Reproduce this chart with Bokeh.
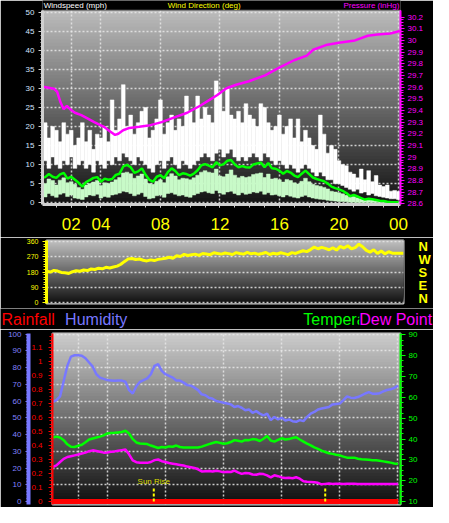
from bokeh.plotting import figure
from bokeh.models import Range1d, LinearAxis, FixedTicker, BoxAnnotation, Label
from bokeh.layouts import column
from bokeh.embed import file_html
from bokeh.resources import INLINE

FONT = "Liberation Sans"

# ---------------- data ----------------
hours = [i * 0.25 for i in range(97)]          # sample times (h), quarter-hourly

gust_hi = [20, 21, 17, 20, 19, 16, 21, 18, 19, 15, 17, 21, 16, 19, 14, 18,
           17, 20, 16, 27, 19, 22, 31, 20, 23, 18, 21, 24, 25, 17, 19, 22,
           27, 18, 21, 23, 19, 22, 20, 28, 24, 21, 28, 22, 25, 23, 21, 32,
           29, 24, 30, 23, 22, 24, 21, 26, 23, 22, 20, 26, 25, 21, 19, 20,
           23, 18, 20, 22, 17, 22, 16, 19, 17, 15, 14, 23, 18, 13, 15, 14,
           11, 10, 9.7, 8, 7.5, 6.5, 8.8, 6, 8.4, 5.5, 7.1, 4.6, 4.2, 4.6, 3.0, 3.2,
           2.9]
gust_lo = [10, 11, 9, 12, 10, 9, 11, 10, 12, 9, 10, 11, 9, 10, 8, 11,
           10, 9, 11, 10, 12, 11, 13, 12, 11, 10, 12, 11, 10, 9, 8, 10,
           11, 9, 11, 12, 10, 9, 11, 10, 9, 10, 11, 12, 13, 12, 11, 13,
           14, 12, 13, 14, 12, 11, 12, 11, 12, 13, 12, 11, 13, 12, 11, 10,
           11, 10, 9, 10, 9, 8, 9, 10, 9, 8, 7, 8, 7, 6, 6, 5,
           5, 4.5, 4, 3.5, 3, 3.5, 2.5, 2.8, 2, 2.4, 1.8, 1.6, 1.4, 1.2, 1, 1,
           0.8]
speed_hi = [5.5, 5.0, 6.2, 5.8, 4.6, 5.9, 6.5, 5.2, 5.5, 4.8, 4.0, 3.5, 4.6, 5.0, 5.4, 5.8,
            4.5, 5.2, 5.0, 5.4, 6.0, 6.6, 7.8, 8.0, 7.6, 6.4, 7.0, 7.5, 6.2, 5.0, 4.8, 5.6,
            6.0, 5.2, 6.8, 7.6, 7.0, 6.0, 6.4, 6.3, 6.0, 6.5, 7.2, 8.0, 8.4, 8.0, 7.8, 8.8,
            7.0, 6.8, 7.5, 8.6, 7.2, 6.5, 6.9, 6.6, 6.8, 7.4, 7.6, 7.8, 6.6, 7.5, 6.2, 6.4,
            6.0, 5.4, 6.1, 5.8, 5.2, 4.9, 5.6, 6.4, 5.5, 4.8, 4.5, 4.3, 4.0, 3.6, 3.0, 2.8,
            2.6, 2.3, 1.9, 1.4, 1.6, 1.3, 1.0, 0.8, 0.9, 0.8, 0.6, 0.5, 0.4, 0.3, 0.3, 0.2,
            0.2]
speed_lo = [2.0, 1.5, 2.4, 1.8, 1.4, 2.2, 2.5, 1.6, 2.0, 1.2, 1.0, 0.8, 1.5, 2.0, 1.8, 2.2,
            1.2, 1.6, 1.4, 2.0, 2.2, 2.5, 3.0, 2.8, 2.4, 1.8, 2.2, 2.6, 1.6, 1.0, 1.2, 1.8,
            2.0, 1.4, 2.4, 2.6, 2.2, 1.8, 2.0, 1.6, 1.4, 2.0, 2.4, 2.8, 3.0, 2.6, 2.4, 3.2,
            2.5, 2.2, 2.8, 3.0, 2.4, 2.0, 2.6, 2.2, 2.4, 2.8, 2.6, 3.0, 2.2, 2.6, 2.0, 2.1,
            1.8, 1.5, 2.0, 1.7, 1.4, 1.2, 1.6, 1.9, 1.5, 1.2, 1.0, 0.9, 0.8, 0.6, 0.5, 0.4,
            0.3, 0.3, 0.2, 0.1, 0.1, 0.0, 0.0, 0.0, 0.0, 0.0, 0.0, 0.0, 0.0, 0.0, 0.0, 0.0,
            0.0]
speed_avg = [6.5, 6.7, 7.5, 6.8, 6.5, 7.4, 7.8, 6.3, 6.8, 6.0, 5.2, 4.2, 5.4, 5.9, 6.5, 6.7,
             5.5, 6.3, 6.0, 6.2, 7.3, 7.6, 9.5, 9.9, 9.3, 7.8, 8.2, 9.0, 7.3, 6.0, 5.5, 6.8,
             7.2, 6.4, 8.0, 9.0, 8.3, 7.2, 7.7, 7.5, 7.1, 7.6, 8.5, 9.8, 10.1, 9.7, 9.3, 10.6,
             9.8, 10.1, 11.0, 11.2, 10.0, 9.3, 9.6, 9.3, 9.2, 10.0, 10.3, 10.5, 9.3, 10.4, 9.0, 8.9,
             8.4, 7.6, 8.3, 7.9, 7.1, 6.7, 7.6, 8.4, 7.5, 6.6, 6.2, 5.9, 5.6, 5.0, 4.2, 3.8,
             3.5, 3.1, 2.5, 1.7, 2.0, 1.6, 1.2, 0.8, 1.0, 0.9, 0.7, 0.5, 0.4, 0.2, 0.1, 0.1,
             0.1]

press_t = [0.07, 0.2, 0.85, 1.06, 1.28, 1.5, 1.71, 1.93, 2.25, 2.68, 3.12, 3.55, 4.2, 4.62,
           4.95, 5.17, 5.49, 5.92, 6.57, 7.2, 8.08, 8.94, 9.8, 10.67, 11.3, 11.8, 12.44, 13.09,
           13.95, 15.03, 15.89, 16.98, 17.84, 18.27, 19.13, 20.0, 21.08, 21.94, 22.59, 23.45, 24.1]
press_v = [29.60, 29.60, 29.585, 29.56, 29.47, 29.41, 29.44, 29.41, 29.38, 29.36, 29.33, 29.30,
           29.26, 29.22, 29.19, 29.20, 29.23, 29.25, 29.26, 29.27, 29.30, 29.34, 29.38, 29.44,
           29.49, 29.53, 29.59, 29.62, 29.65, 29.70, 29.76, 29.83, 29.87, 29.92, 29.96, 29.98,
           30.00, 30.04, 30.05, 30.06, 30.08]

direction = [185, 180, 190, 186, 178, 176, 172, 182, 188, 185, 192, 189, 198, 195, 203, 199,
             208, 204, 210, 215, 226, 243, 258, 260, 254, 257, 250, 246, 252, 248, 255, 258,
             262, 268, 262, 276, 272, 285, 278, 282, 286, 279, 290, 287, 283, 294, 290, 286,
             293, 289, 284, 295, 290, 286, 296, 288, 292, 285, 290, 296, 284, 291, 287, 294,
             289, 283, 295, 290, 299, 306, 301, 313, 328, 318, 326, 320, 312, 324, 310, 332,
             322, 336, 318, 325, 345, 330, 308, 298, 312, 290, 305, 288, 300, 292, 292, 292,
             292]

humidity = [58.5, 59.5, 60.5, 62.8, 72.0, 81.0, 86.5, 87.3, 87.3, 87.0, 85.5, 83.0, 80.5, 76.0, 74.0, 73.2,
            72.5, 72.3, 72.1, 72.2, 72.2, 71.5, 66.5, 64.5, 68.8, 71.5, 72.5, 73.5, 76.0, 81.0, 82.0, 78.0,
            76.0, 75.0, 74.0, 72.3, 72.2, 71.0, 69.5, 69.2, 68.0, 66.5, 64.0, 63.5, 62.0, 61.4, 60.0, 59.5,
            59.0, 58.5, 58.0, 56.5, 57.0, 56.0, 54.5, 55.0, 53.0, 54.0, 52.5, 51.5, 52.5, 48.6, 50.5, 49.0,
            50.0, 48.4, 49.0, 48.0, 47.6, 48.6, 48.0, 50.5, 52.5, 53.5, 55.0, 55.5, 56.0, 56.5, 58.0, 58.3,
            58.5, 60.5, 62.8, 62.0, 61.8, 62.4, 63.4, 64.5, 65.3, 64.4, 64.3, 64.7, 65.8, 66.6, 67.0, 67.8,
            69.2]
temperature = [40.5, 40.8, 41.2, 40.8, 39.5, 37.5, 36.3, 36.2, 36.8, 37.3, 38.5, 39.8, 40.3, 40.8, 41.2, 41.8,
               42.7, 42.9, 43.0, 43.2, 43.4, 44.0, 42.7, 40.0, 38.4, 37.9, 37.8, 37.6, 36.9, 36.3, 35.7, 36.2,
               36.0, 36.5, 36.3, 36.9, 36.2, 36.0, 36.0, 36.0, 36.0, 36.0, 36.4, 37.0, 37.6, 38.1, 38.6, 38.2,
               37.8, 38.0, 38.6, 39.5, 39.2, 38.8, 39.6, 39.5, 40.0, 39.8, 39.1, 40.2, 41.5, 39.3, 38.8, 39.6,
               40.4, 39.8, 40.0, 40.5, 40.9, 39.8, 38.8, 37.8, 37.0, 36.0, 35.3, 34.5, 33.8, 33.2, 32.9, 32.5,
               32.2, 31.6, 31.1, 31.1, 31.1, 30.6, 30.3, 30.2, 30.1, 29.9, 29.8, 29.6, 29.3, 29.0, 28.7, 28.3,
               28.0]
dew_point = [26.0, 26.6, 27.4, 29.0, 30.5, 31.4, 31.8, 32.2, 32.6, 33.1, 33.5, 34.2, 34.6, 34.3, 33.9, 33.5,
             33.6, 33.9, 34.1, 34.4, 34.7, 35.0, 32.7, 29.8, 28.9, 28.7, 28.7, 28.6, 29.0, 29.9, 30.2, 29.4,
             29.0, 28.5, 28.2, 27.9, 27.6, 27.3, 26.8, 26.5, 26.1, 25.5, 24.5, 24.6, 24.7, 24.4, 24.8, 24.5,
             24.1, 24.3, 24.2, 24.9, 24.0, 23.3, 23.7, 23.6, 23.0, 22.9, 23.4, 23.2, 22.6, 21.6, 22.6, 22.2,
             21.6, 21.3, 21.4, 21.2, 21.7, 21.0, 19.8, 19.5, 19.4, 19.3, 19.0, 18.3, 18.5, 18.7, 18.5, 18.6,
             18.6, 18.4, 18.6, 18.6, 18.6, 18.5, 18.5, 18.4, 18.5, 18.4, 18.4, 18.5, 18.4, 18.5, 18.4, 18.5,
             18.5]
rainfall = [0.0] * 97

sun_t = [7.2, 19.0]
sun_labels = ["Sun Rise", ""]

x_tick_hours = [2, 4, 8, 12, 16, 20, 24]
x_tick_labels = ["02", "04", "08", "12", "16", "20", "00"]
speed_ticks = [0, 5, 10, 15, 20, 25, 30, 35, 40, 45, 50]
press_ticks = [28.6, 28.7, 28.8, 28.9, 29.0, 29.1, 29.2, 29.3, 29.4, 29.5, 29.6, 29.7, 29.8,
               29.9, 30.0, 30.1, 30.2]
press_tick_labels = ["28.6", "28.7", "28.8", "28.9", "29", "29.1", "29.2", "29.3", "29.4", "29.5",
                     "29.6", "29.7", "29.8", "29.9", "30", "30.1", "30.2"]
dir_ticks = [0, 90, 180, 270, 360]
compass_pos = [4, 3, 2, 1, 0]
compass_labels = ["N", "W", "S", "E", "N"]
hum_ticks = [0, 10, 20, 30, 40, 50, 60, 70, 80, 90, 100]
rain_ticks = [0.0, 0.1, 0.2, 0.3, 0.4, 0.5, 0.6, 0.7, 0.8, 0.9, 1.0, 1.1]
rain_tick_labels = ["0", "0.1", "0.2", "0.3", "0.4", "0.5", "0.6", "0.7", "0.8", "0.9", "1", "1.1"]
temp_ticks = [10, 20, 30, 40, 50, 60, 70, 80, 90]

top_titles = ["Windspeed (mph)", "Wind Direction (deg)", "Pressure (inHg)"]
bottom_titles = ["Rainfall", "Humidity", "Temperature", "Dew Point"]


# ---------------- helpers ----------------
def grey(v):
    v = int(round(v))
    return "#%02x%02x%02x" % (v, v, v)


def add_gradient(p, y0, y1, top, bottom, n=60):
    for i in range(n):
        f = (i + 0.5) / n
        b = y0 + (y1 - y0) * i / n
        p.add_layout(BoxAnnotation(bottom=b, top=y1, fill_color=grey(bottom + (top - bottom) * f),
                                   fill_alpha=1.0, line_color=None, level="image"))


def style_grid(g):
    g.grid_line_color = "#e8e8e8"
    g.grid_line_dash = "2 2"
    g.grid_line_width = 1.5
    g.grid_line_alpha = 0.85


def style_axis(ax, color, line_color, font_size="8px", tick_out=4, minor_out=2, line_width=3,
               standoff=4):
    ax.axis_line_color = line_color
    ax.axis_line_width = line_width
    ax.major_tick_line_color = line_color
    ax.minor_tick_line_color = line_color
    ax.major_tick_out = tick_out
    ax.major_tick_in = 0
    ax.minor_tick_out = minor_out
    ax.minor_tick_in = 0
    ax.major_label_text_color = color
    ax.major_label_text_font = FONT
    ax.major_label_text_font_size = font_size
    ax.major_label_standoff = standoff


common = dict(output_backend="svg", toolbar_location=None, border_fill_color="black",
              background_fill_color="#141414", outline_line_color="#d0d0d0", outline_line_width=2,
              frame_align=False, title=None)
strip = dict(output_backend="svg", toolbar_location=None, border_fill_color="black",
             background_fill_color="black", outline_line_color=None, min_border=0,
             x_axis_location=None, y_axis_location=None, frame_align=False, title=None)

# ---------------- panel 1: wind speed / gust / pressure (frame top strip holds titles) -------
p1 = figure(width=433, height=237, x_range=Range1d(0.07, 24.14), y_range=Range1d(-0.5, 53.13),
            min_border_left=42, min_border_right=33, min_border_top=0, min_border_bottom=33,
            **dict(common, outline_line_color=None))
p1.extra_y_ranges = {"press": Range1d(28.594, 30.342)}
add_gradient(p1, -0.5, 50.5, 188, 18)

xt1 = FixedTicker(ticks=x_tick_hours, minor_ticks=list(range(0, 25)))
ax = p1.xaxis[0]
ax.ticker = xt1
ax.major_label_overrides = dict(zip(x_tick_hours, x_tick_labels))
style_axis(ax, "#ffff00", "#d0d0d0", font_size="17px", tick_out=3, minor_out=3, standoff=10)
ay = p1.yaxis[0]
ay.ticker = FixedTicker(ticks=speed_ticks, minor_ticks=list(range(0, 51)))
ay.bounds = (-0.5, 50.5)
style_axis(ay, "#d4e4ff", "#d0d0d0", tick_out=4, minor_out=2, standoff=4)
pa = LinearAxis(y_range_name="press", bounds=(28.594, 30.256),
                ticker=FixedTicker(ticks=press_ticks, minor_ticks=[28.6 + 0.025 * k for k in range(65)]),
                major_label_overrides=dict(zip(press_ticks, press_tick_labels)))
style_axis(pa, "#ff00ff", "#ff00ff", tick_out=4, minor_out=3, line_width=2, standoff=3)
p1.add_layout(pa, "right")
p1.xgrid.ticker = xt1
p1.xgrid.cross_bounds = (-0.5, 50.5)
p1.ygrid.ticker = FixedTicker(ticks=speed_ticks)
style_grid(p1.xgrid[0])
style_grid(p1.ygrid[0])
# black strip above the data area (title band) and the data-area outline
p1.add_layout(BoxAnnotation(bottom=50.5, top=53.13, fill_color="black", fill_alpha=1.0,
                            line_color=None, level="underlay"))
p1.add_layout(BoxAnnotation(bottom=-0.5, top=50.5, fill_alpha=0.0, line_color="#d0d0d0",
                            line_width=2, level="underlay"))
for txt, x, col in zip(top_titles, [0.15, 8.49, 20.3], ["white", "#ffff00", "#ff00ff"]):
    p1.add_layout(Label(x=x, y=51.8, text=txt, text_color=col, text_font=FONT, text_font_size="8px",
                        text_baseline="middle"))

p1.vbar(x=hours, width=0.25, bottom=gust_lo, top=gust_hi, fill_color="white",
        line_color="white", line_width=0.5)
p1.vbar(x=hours, width=0.25, bottom=speed_lo, top=speed_hi, fill_color="#c8fac8",
        line_color="#c8fac8", line_width=0.5)
p1.line(hours, speed_avg, line_color="#00ff00", line_width=2.5)
p1.line(press_t, press_v, y_range_name="press", line_color="#ff00ff", line_width=2.5)

# ---------------- panel 2: wind direction ----------------
p2 = figure(width=433, height=71, x_range=Range1d(0, 24), y_range=Range1d(-6.2, 366.8),
            x_axis_location=None, min_border_left=46, min_border_right=30, min_border_top=3,
            min_border_bottom=5, **common)
p2.extra_y_ranges = {"compass": Range1d(-0.4, 4.5)}
add_gradient(p2, -6.2, 366.8, 192, 16)
ay2 = p2.yaxis[0]
ay2.ticker = FixedTicker(ticks=dir_ticks, minor_ticks=list(range(0, 361, 15)))
style_axis(ay2, "#ffff00", "#ffff00", font_size="7px", tick_out=4, minor_out=3, standoff=4)
ca = LinearAxis(y_range_name="compass", ticker=FixedTicker(ticks=compass_pos),
                major_label_overrides=dict(zip(compass_pos, compass_labels)))
style_axis(ca, "#ffff00", None, font_size="13px", tick_out=0, minor_out=0, standoff=15)
ca.major_label_text_font_style = "bold"
p2.add_layout(ca, "right")
p2.xgrid.visible = False
p2.ygrid.ticker = FixedTicker(ticks=dir_ticks)
style_grid(p2.ygrid[0])
p2.line(hours, direction, line_color="#ffff00", line_width=3)

# ---------------- title strip above panel 3 ----------------
pt = figure(width=433, height=21, x_range=Range1d(0, 449), y_range=Range1d(339.4, 317.7), **strip)
pt.grid.visible = False
for txt, x, col in zip(bottom_titles, [1, 67, 314, 372], ["#ff0000", "#7878ff", "#00ff00", "#ff00ff"]):
    pt.add_layout(Label(x=x, y=328.8, text=txt, text_color=col, text_font=FONT, text_font_size="16px",
                        text_baseline="middle", background_fill_color="black"))

# ---------------- panel 3: rainfall / humidity / temperature / dew point ----------------
p3 = figure(width=433, height=178, x_range=Range1d(0.23, 24.18), y_range=Range1d(-1.73, 100.3),
            x_axis_location=None, min_border_left=52, min_border_right=33, min_border_top=4,
            min_border_bottom=3, **common)
p3.extra_y_ranges = {"rain": Range1d(-0.0207, 1.197), "temp": Range1d(8.6, 90.7)}
add_gradient(p3, -1.73, 100.3, 205, 14)

ra = p3.yaxis[0]
ra.y_range_name = "rain"
ra.ticker = FixedTicker(ticks=rain_ticks, minor_ticks=[0.025 * k for k in range(48)])
ra.major_label_overrides = dict(zip(rain_ticks, rain_tick_labels))
style_axis(ra, "#ff0000", "#ff0000", tick_out=4, minor_out=3, line_width=2, standoff=6)
ha = LinearAxis(ticker=FixedTicker(ticks=hum_ticks, minor_ticks=list(range(0, 101, 2))))
style_axis(ha, "#8080ff", "#7878ff", tick_out=3, minor_out=2, line_width=4, standoff=4)
p3.add_layout(ha, "left")
ta = LinearAxis(y_range_name="temp", ticker=FixedTicker(ticks=temp_ticks, minor_ticks=[10 + 2.5 * k for k in range(33)]))
style_axis(ta, "#00ff00", "#00ff00", tick_out=5, minor_out=3, line_width=2, standoff=3)
p3.add_layout(ta, "right")
p3.xgrid.ticker = FixedTicker(ticks=x_tick_hours)
p3.ygrid.ticker = FixedTicker(ticks=hum_ticks)
style_grid(p3.xgrid[0])
style_grid(p3.ygrid[0])

p3.line(hours, humidity, line_color="#7878ff", line_width=2.5)
p3.line(hours, temperature, y_range_name="temp", line_color="#00ff00", line_width=2.5)
p3.line(hours, dew_point, y_range_name="temp", line_color="#ff00ff", line_width=2.5)
p3.line(hours, rainfall, y_range_name="rain", line_color="#ff0000", line_width=5)
p3.segment(x0=sun_t, y0=[0, 0], x1=sun_t, y1=[0.1, 0.1], y_range_name="rain",
           line_color="#ffff00", line_width=2, line_dash="3 2")
p3.add_layout(Label(x=sun_t[0], y=9.3, text=sun_labels[0], text_align="center", text_color="#dcdc00",
                    text_font=FONT, text_font_size="8px"))

layout = column(p1, p2, pt, p3, spacing=0)
open("out.html", "w").write(file_html(layout, INLINE))
